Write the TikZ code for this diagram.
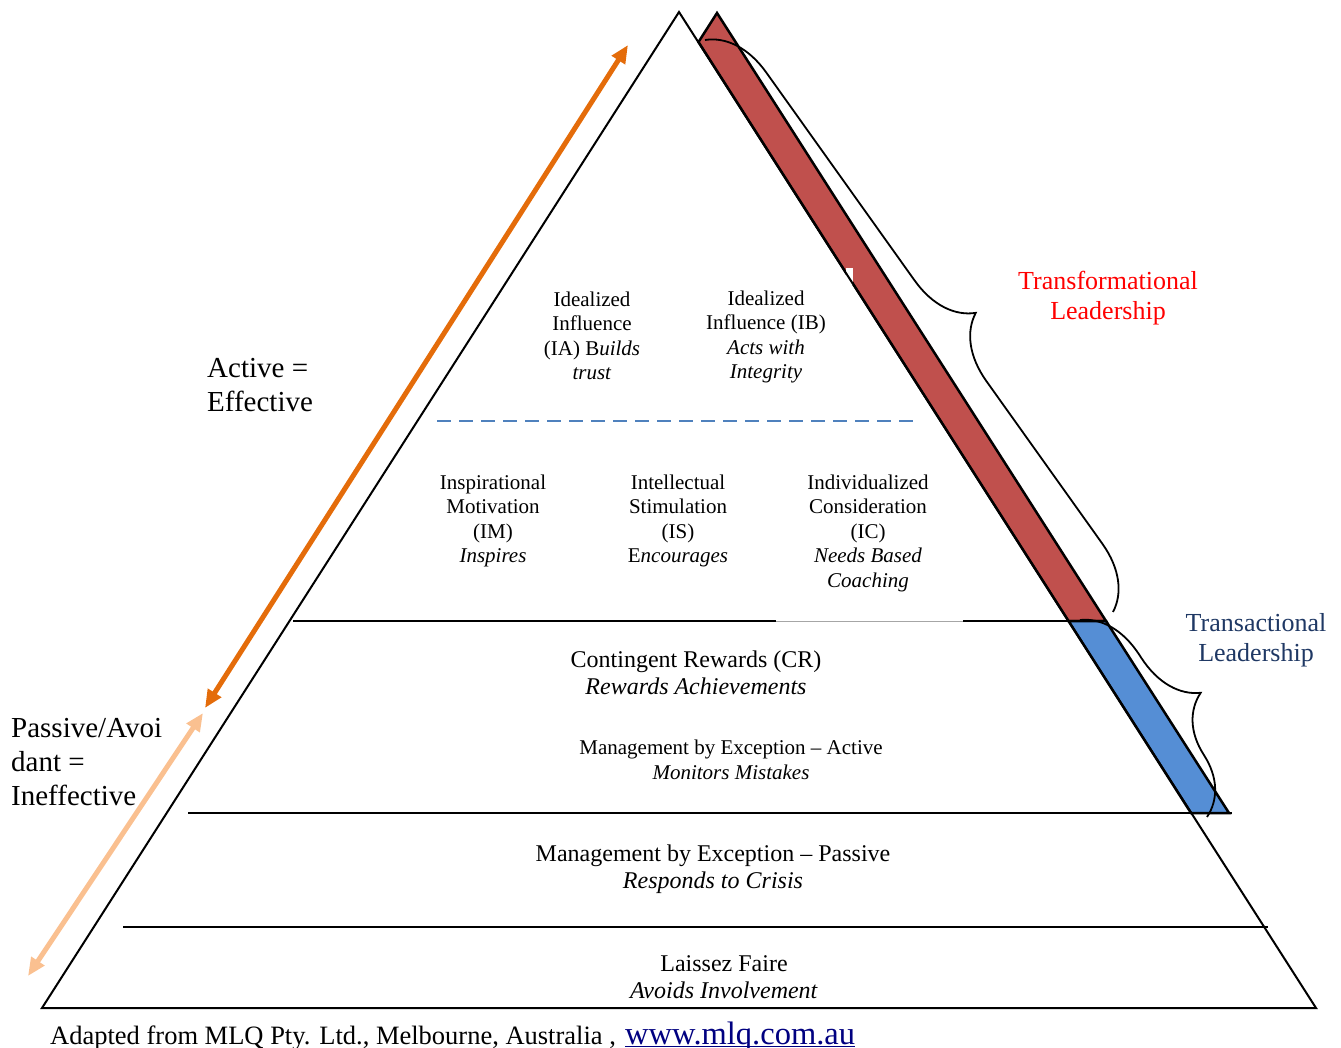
\documentclass[tikz,border=0pt]{standalone}
\usepackage{fontspec}
\setmainfont{Liberation Serif}
\usetikzlibrary{arrows.meta,decorations.pathreplacing}
\definecolor{bandred}{HTML}{C0504D}
\definecolor{bandblue}{HTML}{558ED5}
\definecolor{dashblue}{HTML}{4F81BD}
\definecolor{arrorange}{HTML}{E46C0A}
\definecolor{arrlight}{HTML}{FAC090}
\definecolor{navy}{HTML}{1F3864}
\definecolor{urlblue}{HTML}{000080}
\newcommand{\fs}[2]{\fontsize{#1}{#2}\selectfont}
\tikzset{
  outline/.style={draw=black,line width=2pt,line join=miter},
  layer/.style={draw=black,line width=2pt},
  lbl/.style={inner sep=0pt,align=center,font=\fs{21}{24.5}},
  lblbig/.style={inner sep=0pt,align=center,font=\fs{24}{27.5}},
  side/.style={inner sep=0pt,align=left,font=\fs{29}{34}},
  group/.style={inner sep=0pt,align=center,font=\fs{26}{30.5}},
  dblarrow/.style={line width=5pt,{Triangle[length=18pt,width=15pt]}-{Triangle[length=18pt,width=15pt]}},
  bracket/.style={draw=black,line width=1.8pt,decorate},
}
\begin{document}
\begin{tikzpicture}[x=1pt,y=-1pt]
\useasboundingbox (0,0) rectangle (1341,1048);
% main triangle
\coordinate (apex) at (679,12);
\coordinate (bl) at (42,1008);
\coordinate (br) at (1316,1008);
% bands
\coordinate (rtop) at (717,13);
\coordinate (rjoin) at (698.5,42);
\coordinate (rbl) at (1068.5,621);
\coordinate (rbr) at (1106,621);
\coordinate (bbl) at (1191,813);
\coordinate (bbr) at (1229,813);
\filldraw[fill=bandred,draw=black,line width=2.5pt,line join=miter] (rtop) -- (rjoin) -- (rbl) -- (rbr) -- cycle;
\filldraw[fill=bandblue,draw=black,line width=2.5pt,line join=miter] (rbl) -- (bbl) -- (bbr) -- (rbr) -- cycle;
\fill[white] (846,268) rectangle (853,285);
\draw[outline] (apex) -- (bl) -- (br) -- cycle;
% layer lines
\coordinate (l1a) at (293,621);
\coordinate (l1b) at (776,621);
\coordinate (l1c) at (963,621);
\draw[layer] (l1a) -- (l1b);
\draw[gray!70,line width=1pt] (l1b) -- (l1c);
\draw[layer] (l1c) -- (rbl);
\coordinate (l2a) at (188,813);
\coordinate (l2b) at (1232,813);
\draw[layer] (l2a) -- (l2b);
\coordinate (l3a) at (123,927);
\coordinate (l3b) at (1268,927);
\draw[layer] (l3a) -- (l3b);
\coordinate (da) at (437,421);
\coordinate (db) at (915,421);
\draw[dashblue,line width=2.5pt,dash pattern=on 14pt off 8pt] (da) -- (db);
% arrows
\coordinate (oa) at (628,45);
\coordinate (ob) at (205,708);
\draw[dblarrow,arrorange] (oa) -- (ob);
\coordinate (pa) at (203,713);
\coordinate (pb) at (28,976);
\draw[dblarrow,arrlight] (pa) -- (pb);
% braces
\coordinate (b1a) at (705,40);
\coordinate (b1b) at (1113,612);
\draw[bracket,decoration={brace,amplitude=62pt,aspect=0.54}] (b1a) -- (b1b);
\coordinate (b2a) at (1080,620);
\coordinate (b2b) at (1207,817);
\draw[bracket,decoration={brace,amplitude=62pt,aspect=0.54}] (b2a) -- (b2b);
% texts
\node[lbl] (ia) at (592,336) {Idealized\\Influence\\(IA) B\textit{uilds}\\\textit{trust}};
\node[lbl] (ib) at (766,337) {Idealized\\Influence (IB)\\\textit{Acts with}\\\textit{Integrity}};
\node[lbl] (im) at (493,521) {Inspirational\\Motivation\\(IM)\\\textit{Inspires}};
\node[lbl] (is) at (678,521) {Intellectual\\Stimulation\\(IS)\\E\textit{ncourages}};
\node[lbl] (ic) at (868,533) {Individualized\\Consideration\\(IC)\\\textit{Needs Based}\\\textit{Coaching}};
\node[lblbig] (cr) at (696,673) {Contingent Rewards (CR)\\\textit{Rewards Achievements}};
\node[lbl] (mbea) at (731,760) {Management by Exception -- Active\\\textit{Monitors Mistakes}};
\node[lblbig] (mbep) at (713,869) {Management by Exception -- Passive\\\textit{Responds to Crisis}};
\node[lblbig] (lf) at (724,977) {Laissez Faire\\\textit{Avoids Involvement}};
\node[group,text=red] (tf) at (1108,298) {Transformational\\Leadership};
\node[group,text=navy] (ta) at (1256,640) {Transactional\\Leadership};
\node[side,anchor=west] (act) at (207,385) {Active =\\Effective};
\node[side,anchor=west] (pas) at (11,762) {Passive/Avoi\\dant =\\Ineffective};
\node[inner sep=0pt,anchor=base west,font=\fs{26.5}{30}] (foot) at (50,1044) {Adapted from MLQ Pty. Ltd., Melbourne, Australia ,};
\node[inner sep=0pt,anchor=base west,font=\fs{32.5}{36},text=urlblue] (url) at (625,1044) {www.mlq.com.au};
\draw[urlblue,line width=1.5pt] ([yshift=-2.5pt]url.base west) -- ([yshift=-2.5pt]url.base east);
\end{tikzpicture}
\end{document}
